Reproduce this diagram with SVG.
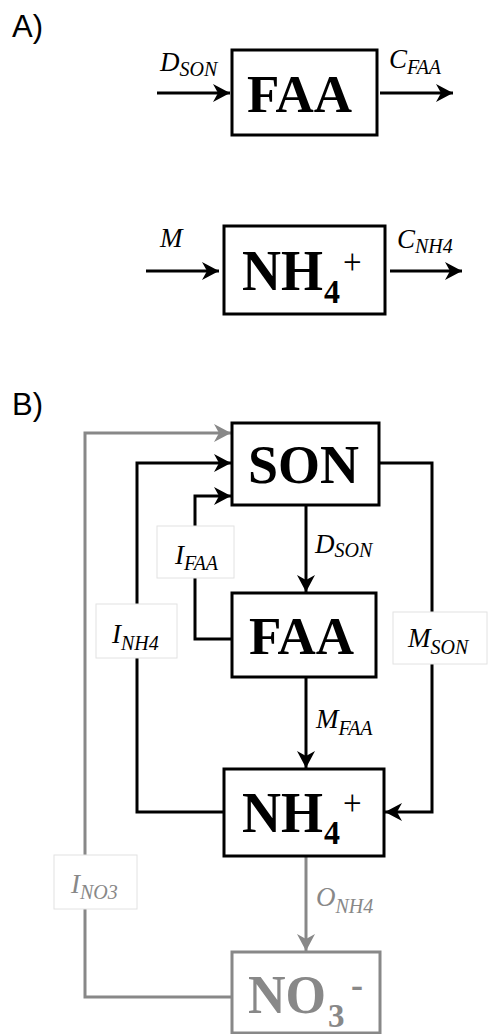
<svg xmlns="http://www.w3.org/2000/svg" width="488" height="1034" viewBox="0 0 488 1034">
<style>
.bg{fill:#fff}
.box{fill:#fff;stroke:#000;stroke-width:3}
.gbox{fill:#fff;stroke:#888;stroke-width:3}
.node{font-family:"Liberation Serif","Times New Roman",serif;font-weight:bold;fill:#000}
.gnode{font-family:"Liberation Serif","Times New Roman",serif;font-weight:bold;fill:#888}
.lbl{font-family:"Liberation Serif","Times New Roman",serif;font-style:italic;font-size:27px;fill:#000}
.glbl{font-family:"Liberation Serif","Times New Roman",serif;font-style:italic;font-size:27px;fill:#888}
.sub{font-size:20px}
.panel{font-family:"Liberation Sans",Arial,sans-serif;font-size:31px;fill:#000}
.ln{fill:none;stroke:#000;stroke-width:3}
.gln{fill:none;stroke:#888;stroke-width:3}
.lbox{fill:#fff;stroke:#e2e2e2;stroke-width:1}
</style>
<defs>
<marker id="ah" viewBox="-18 -10 20 20" refX="0" refY="0" markerWidth="20" markerHeight="20" markerUnits="userSpaceOnUse" orient="auto">
<path d="M0,0 L-17,-9 L-12,0 L-17,9 Z" fill="#000"/>
</marker>
<marker id="gah" viewBox="-18 -10 20 20" refX="0" refY="0" markerWidth="20" markerHeight="20" markerUnits="userSpaceOnUse" orient="auto">
<path d="M0,0 L-17,-9 L-12,0 L-17,9 Z" fill="#888"/>
</marker>
</defs>
<rect class="bg" x="0" y="0" width="488" height="1034"/>
<text class="panel" x="12" y="37">A)</text>
<text class="panel" x="12" y="415">B)</text>

<g id="connectors">
<!-- Panel A -->
<path class="ln" d="M157,93 H230" marker-end="url(#ah)"/>
<path class="ln" d="M380,93 H453" marker-end="url(#ah)"/>
<path class="ln" d="M146,271 H219" marker-end="url(#ah)"/>
<path class="ln" d="M390,271 H462" marker-end="url(#ah)"/>
<!-- Panel B -->
<path class="gln" d="M232,997 H85 V433 H231" marker-end="url(#gah)"/>
<path class="ln" d="M224,812 H137 V463 H231" marker-end="url(#ah)"/>
<path class="ln" d="M232,639 H195 V496 H231" marker-end="url(#ah)"/>
<path class="ln" d="M379,463 H432 V812 H385" marker-end="url(#ah)"/>
<path class="ln" d="M306,505 V592" marker-end="url(#ah)"/>
<path class="ln" d="M306,677 V768" marker-end="url(#ah)"/>
<path class="gln" d="M306,856 V951" marker-end="url(#gah)"/>
</g>

<g id="labels">
<text class="lbl" x="160" y="71">D<tspan class="sub" dy="5">SON</tspan></text>
<text class="lbl" x="389" y="68">C<tspan class="sub" dy="6">FAA</tspan></text>
<text class="lbl" x="160" y="247">M</text>
<text class="lbl" x="397" y="248">C<tspan class="sub" dy="5">NH4</tspan></text>

<text class="lbl" x="315" y="553">D<tspan class="sub" dy="4">SON</tspan></text>
<rect class="lbox" x="157" y="526" width="77" height="52"/>
<text class="lbl" x="175" y="564">I<tspan class="sub" dy="6">FAA</tspan></text>
<rect class="lbox" x="96" y="604" width="81" height="54"/>
<text class="lbl" x="112" y="643">I<tspan class="sub" dy="7">NH4</tspan></text>
<rect class="lbox" x="393" y="612" width="94" height="52"/>
<text class="lbl" x="408" y="647">M<tspan class="sub" dy="7">SON</tspan></text>
<text class="lbl" x="316" y="728">M<tspan class="sub" dy="7">FAA</tspan></text>
<text class="glbl" x="316" y="906">O<tspan class="sub" dy="7">NH4</tspan></text>
<rect class="lbox" x="54" y="855" width="83" height="54"/>
<text class="glbl" x="71" y="893">I<tspan class="sub" dy="6">NO3</tspan></text>
</g>

<g id="node-faa-a">
<rect class="box" x="232" y="50" width="145" height="85"/>
<text class="node" x="247" y="112" font-size="53">FAA</text>
</g>
<g id="node-nh4-a">
<rect class="box" x="224" y="226" width="161" height="88"/>
<g transform="translate(0,290) scale(1,1.07)">
<text class="node" x="242" y="0" font-size="54">NH<tspan x="324" dy="12" font-size="32">4</tspan><tspan x="343" dy="-27" font-size="33" font-weight="normal">+</tspan></text>
</g>
</g>

<g id="node-son">
<rect class="box" x="232" y="423" width="147" height="82"/>
<text class="node" x="248" y="483" font-size="54">SON</text>
</g>
<g id="node-faa-b">
<rect class="box" x="232" y="593" width="144" height="84"/>
<text class="node" x="249" y="654" font-size="53">FAA</text>
</g>
<g id="node-nh4-b">
<rect class="box" x="224" y="769" width="160" height="87"/>
<g transform="translate(0,832) scale(1,1.07)">
<text class="node" x="242" y="0" font-size="54">NH<tspan x="324" dy="11" font-size="32">4</tspan><tspan x="343" dy="-27" font-size="33" font-weight="normal">+</tspan></text>
</g>
</g>
<g id="node-no3">
<rect class="gbox" x="232" y="952" width="148" height="81"/>
<g transform="translate(0,1013) scale(1,1.05)">
<text class="gnode" x="248" y="0" font-size="52">NO<tspan x="328" dy="13" font-size="33">3</tspan><tspan x="351" dy="-28" font-size="36">-</tspan></text>
</g>
</g>
</svg>
